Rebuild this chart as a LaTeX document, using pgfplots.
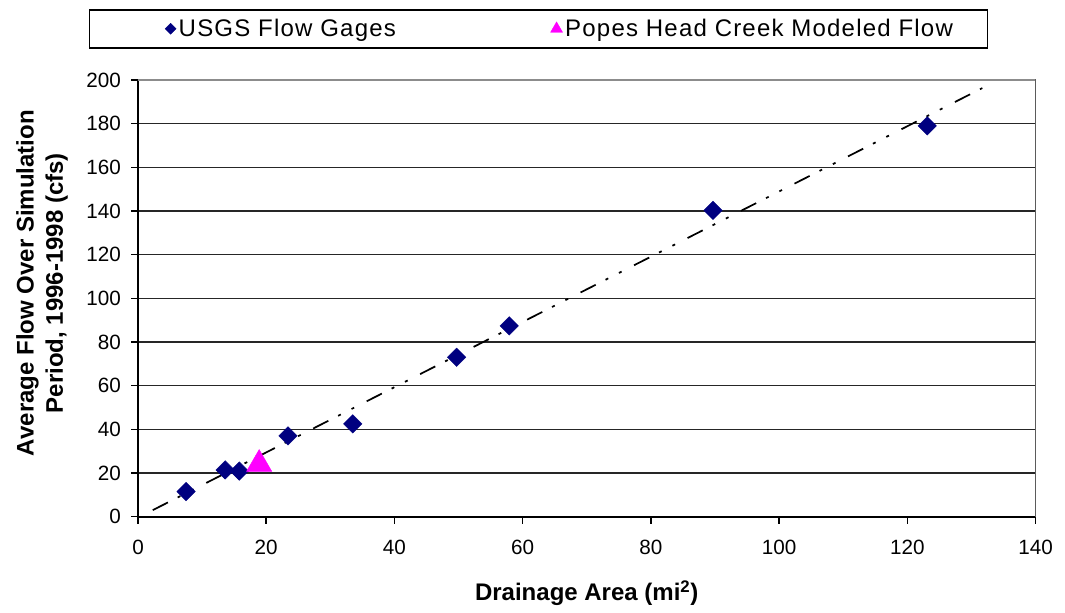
\documentclass[border=0pt]{standalone}
\usepackage{fontspec}
\setmainfont{Liberation Sans}
\usepackage{pgfplots}
\pgfplotsset{compat=1.18}
\definecolor{navyb}{RGB}{0,0,128}
\definecolor{magp}{RGB}{255,0,255}
\pgfplotsset{
  legimgA/.style={legend image code/.code={\path (-27.6pt,0pt); \draw[mark repeat=2,mark phase=2,##1, mark size=2.9pt] plot coordinates {(0cm,0cm)(0.3cm,0cm)(0.6cm,0cm)};}},
  legimgB/.style={legend image code/.code={\draw[mark repeat=2,mark phase=2,##1, mark size=5.2pt] plot coordinates {(0cm,0cm)(0.3cm,0cm)(0.6cm,0cm)};}},
}
\begin{document}
\begin{tikzpicture}
\useasboundingbox (-103.5pt,-72.2pt) rectangle (695.2pt,387.5pt);
\begin{axis}[
  scale only axis,
  width=673.1pt, height=327.5pt,
  xmin=0, xmax=140, ymin=0, ymax=200,
  xtick distance=20, ytick distance=20,
  xtick pos=left, ytick pos=left,
  tick align=outside,
  major tick length=5.25pt,
  tick style={black, line width=1.1pt},
  axis line style={black, line width=1.3pt},
  ymajorgrids,
  major grid style={black!85, line width=1.2pt},
  /pgf/number format/assume math mode=true,
  ticklabel style={font=\fontsize{15.5}{18}\selectfont},
  yticklabel style={xshift=-4pt},
  xticklabel style={yshift=-9pt},
  xlabel={\textbf{Drainage Area (mi\textsuperscript{2})}},
  ylabel={\textbf{Average Flow Over Simulation}\\\textbf{Period, 1996-1998 (cfs)}},
  label style={font=\fontsize{18}{22}\selectfont},
  xlabel style={at={(axis description cs:0.5,-0.175)}, anchor=center},
  ylabel style={at={(axis description cs:-0.107,0.535)}, anchor=center, align=center},
  legend columns=2,
  legend style={
    at={(-0.0548,1.1626)}, anchor=north west,
    draw=black, line width=1.2pt,
    font=\fontsize{18}{21}\selectfont\addfontfeatures{LetterSpace=5},
    inner xsep=24pt, inner ysep=5pt,
    /tikz/every odd column/.append style={column sep=0pt},
    /tikz/every even column/.append style={column sep=114pt},
  },
]
\addplot[only marks, mark=square*, mark size=4.9pt,
  mark options={rotate=45, fill=navyb, draw=navyb, line width=0.3pt},
  legimgA]
  coordinates {
  (7.5,11.5) (13.6,21.4) (15.8,20.9) (23.4,37.0) (33.5,42.5)
  (49.7,73.0) (57.9,87.4) (89.7,140.3) (123.1,179.0)
};
\addlegendentry{USGS Flow Gages}
\addplot[only marks, mark=triangle*, mark size=10.9pt,
  mark options={fill=magp, draw=magp, line width=0.3pt},
  legimgB]
  coordinates {(18.9,24.1)};
\addlegendentry{Popes Head Creek Modeled Flow}
\addplot[forget plot, black, line width=1.3pt,
  dash pattern=on 12.75pt off 8.25pt on 2.25pt off 9pt on 2.25pt off 10.5pt]
  coordinates {(2.3,3.0) (131.7,196.3)};
\draw[black!45, line width=1.3pt] (rel axis cs:0,1) -- (rel axis cs:1,1) -- (rel axis cs:1,0);
\end{axis}
\end{tikzpicture}
\end{document}
